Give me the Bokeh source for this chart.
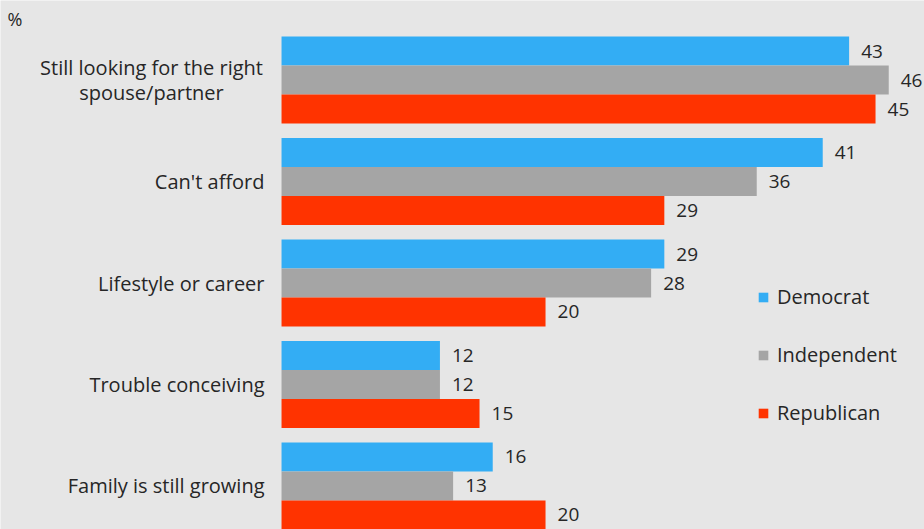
from bokeh.plotting import figure
from bokeh.models import ColumnDataSource, Range1d, Legend, LegendItem, Label
from bokeh.core.properties import value
from bokeh.embed import file_html
from bokeh.resources import INLINE

categories = ["Still looking for the right\nspouse/partner", "Can't afford",
              "Lifestyle or career", "Trouble conceiving", "Family is still growing"]
series_names = ["Democrat", "Independent", "Republican"]
democrat = [43, 41, 29, 12, 16]
independent = [46, 36, 28, 12, 13]
republican = [45, 29, 20, 15, 20]
colors = ["#33adf4", "#a5a5a5", "#ff3300"]

FONT = "Open Sans"
BG = "#e6e6e6"
TXT = "#262626"

p = figure(width=924, height=529, output_backend="svg", toolbar_location=None,
           x_range=Range1d(-21.29, 48.71), y_range=Range1d(4.4286, -0.7833),
           min_border=0, background_fill_color=BG, border_fill_color=BG,
           outline_line_color=None)
p.axis.visible = False
p.grid.visible = False

bar_h = 0.2857
offsets = [-bar_h, 0.0, bar_h]
renderers = []
for name, vals, col, off in zip(series_names, [democrat, independent, republican], colors, offsets):
    ys = [i + off for i in range(len(categories))]
    src = ColumnDataSource(dict(y=ys, right=vals, lab=[str(v) for v in vals]))
    r = p.hbar(y="y", left=0, right="right", height=bar_h, source=src,
               fill_color=col, line_color=None)
    renderers.append(r)
    p.text(x="right", y="y", text="lab", source=src, x_offset=12,
           text_align="left", text_baseline="middle", text_color=TXT,
           text_font=value(FONT), text_font_size="19px")

single = [(i, c) for i, c in enumerate(categories) if "\n" not in c]
multi = [(i, c) for i, c in enumerate(categories) if "\n" in c]
p.text(x=[0] * len(single), y=[i for i, _ in single], text=[c for _, c in single],
       x_offset=-17, text_align="right", text_baseline="middle", text_color=TXT,
       text_font=value(FONT), text_font_size="20px")
p.text(x=[0] * len(multi), y=[i for i, _ in multi], text=[c for _, c in multi],
       x_offset=-130, text_align="center", text_baseline="middle", text_color=TXT,
       text_font=value(FONT), text_font_size="20px", text_line_height=0.92)

p.add_layout(Label(x=7, y=529 - 18, x_units="screen", y_units="screen", text="%",
                   text_font=FONT, text_font_size="18px", text_color=TXT,
                   text_baseline="middle"))

legend = Legend(items=[LegendItem(label=n, renderers=[r]) for n, r in zip(series_names, renderers)],
                location=(757, 103), orientation="vertical", spacing=31,
                glyph_width=12, glyph_height=12, label_height=20, label_standoff=8,
                padding=0, margin=0, background_fill_alpha=0, border_line_color=None,
                label_text_font=FONT, label_text_font_size="20px", label_text_color=TXT)
p.add_layout(legend)

open("out.html", "w").write(file_html(p, INLINE))
